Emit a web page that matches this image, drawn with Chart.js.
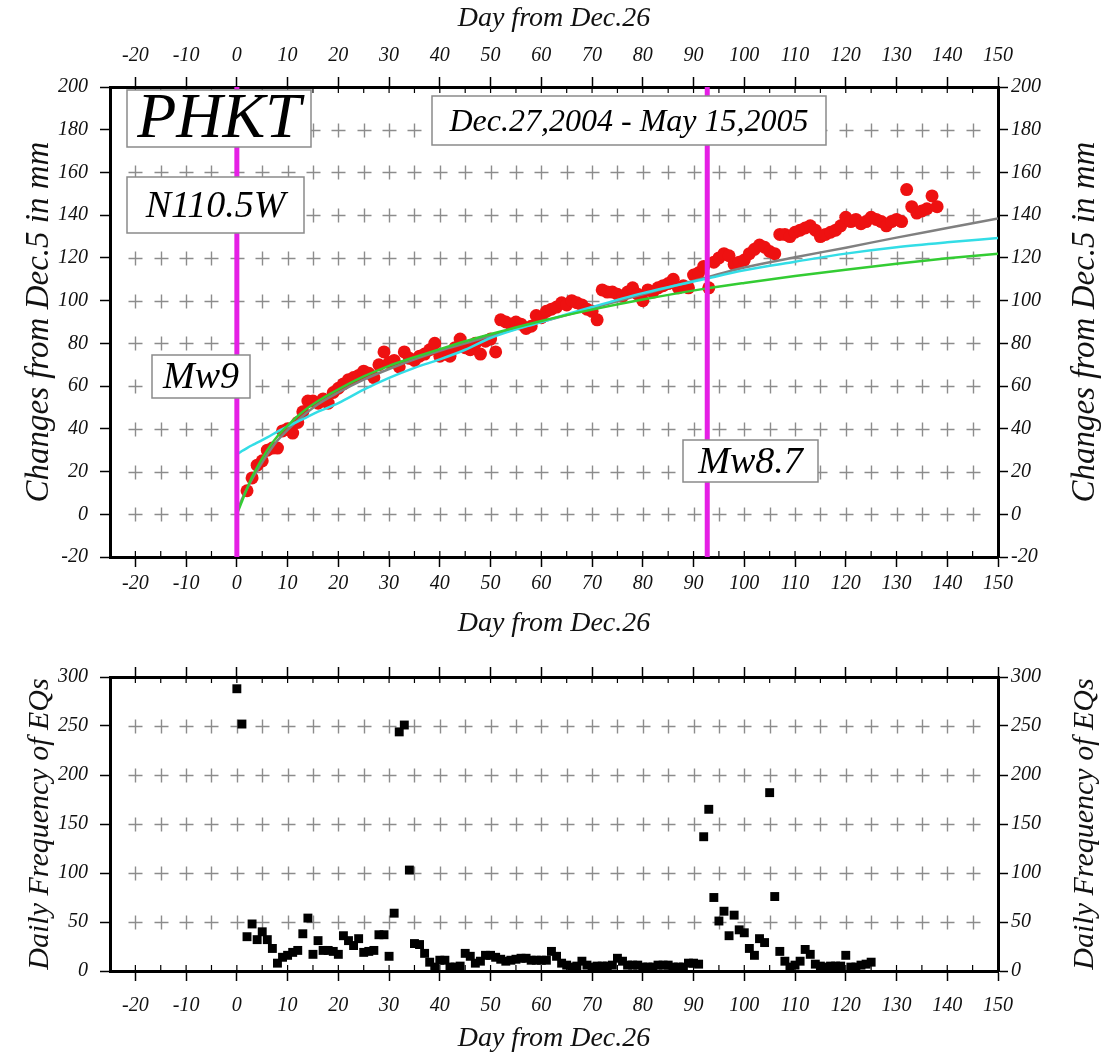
<!DOCTYPE html>
<html>
<head>
<meta charset="utf-8">
<script src="https://cdn.jsdelivr.net/npm/chart.js@4.4.0/dist/chart.umd.min.js"></script>
<style>
  body { margin: 0; background: #fff; }
  canvas { position: absolute; left: 0; }
  #gps { top: 0; }
  #eqs { top: 640px; }
</style>
</head>
<body>
<canvas id="gps" width="1104" height="640"></canvas>
<canvas id="eqs" width="1104" height="415"></canvas>
<script>
// ---------- DATA ----------
// GPS displacement at PHKT (N110.5W component), mm vs. day from Dec.26
const gpsDays = [2,3,4,5,6,7,8,9,10,11,12,13,14,15,16,17,18,19,20,21,22,23,24,25,26,27,28,29,30,31,
  32,33,34,35,36,37,38,39,40,41,42,43,44,45,46,47,48,49,50,51,52,53,54,55,56,57,58,59,60,61,
  62,63,64,65,66,67,68,69,70,71,72,73,74,75,76,77,78,79,80,81,82,83,84,85,86,87,88,89,90,91,
  92,93,94,95,96,97,98,99,100,101,102,103,104,105,106,107,108,109,110,111,112,113,114,115,116,117,118,119,120,121,
  122,123,124,125,126,127,128,129,130,131,132,133,134,135,136,137,138];
const gpsMm = [11,17,23,25,30,31,31,39,40,38,43,48,53,53,52,54,52,57,59,61,63,64,65,67,66,64,70,76,71,72,
  69,76,73,72,74,75,77,80,74,75,74,78,82,78,77,80,75,81,82,76,91,90,89,90,89,87,88,93,92,95,
  96,97,99,98,100,99,98,96,95,91,105,104,104,103,102,104,106,103,100,105,104,106,107,108,110,106,107,106,112,113,
  116,106,118,120,122,121,117,118,119,122,124,126,125,123,122,131,131,130,132,133,134,135,133,130,131,132,133,135,139,137,
  138,136,137,139,138,137,135,137,138,137,152,144,141,142,143,149,144];

// fitted curves at these days
const fitDays  = [0, 0.5, 1, 2, 3, 4, 6, 8, 10, 13, 16, 20, 25, 30, 35, 40, 45, 50, 60, 70, 80, 92, 100, 110, 120, 130, 140, 150];
const grayFit  = [1, 4, 7, 12, 16.5, 20.5, 28, 34.5, 39.5, 46, 51.5, 57, 63, 68, 72.5, 76.5, 80, 83.5, 90, 96.5, 103, 110.5, 115.5, 120.3, 124.8, 129.5, 134, 138.5];
const cyanFit  = [28, 28.8, 29.6, 31, 32.3, 33.5, 36, 38.7, 41.2, 44.5, 48, 52, 58.3, 63.8, 68.5, 72.5, 77, 82.5, 90, 97, 103.5, 110, 114.2, 118.2, 122, 125, 127.3, 129.3];
const greenFit = [0, 3, 6, 12, 17.5, 22, 30, 36.5, 41.5, 48, 53, 58.5, 64.5, 69.5, 73.5, 77.3, 81, 84.3, 90.5, 95.8, 100.5, 105.5, 108.3, 111.5, 114.5, 117.3, 119.8, 122];

// daily earthquake counts
const eqDays = [0,1,2,3,4,5,6,7,8,9,10,11,12,13,14,15,16,17,18,19,20,21,22,23,24,25,26,27,28,29,
  30,31,32,33,34,35,36,37,38,39,40,41,42,43,44,45,46,47,48,49,50,51,52,53,54,55,56,57,58,59,
  60,61,62,63,64,65,66,67,68,69,70,71,72,73,74,75,76,77,78,79,80,81,82,83,84,85,86,87,88,89,
  90,91,92,93,94,95,96,97,98,99,100,101,102,103,104,105,106,107,108,109,110,111,112,113,114,115,116,117,118,119,
  120,121,122,123,124,125];
const eqCount = [288,252,35,48,32,40,32,23,8,14,16,19,21,38,54,17,31,21,21,20,17,36,31,26,33,19,20,21,37,37,
  15,59,244,251,103,28,27,18,9,4,11,11,4,4,5,18,15,8,10,16,16,14,12,10,11,12,13,13,11,11,
  11,11,20,15,8,6,4,5,10,6,4,5,5,5,6,13,10,6,6,6,4,4,4,6,6,6,4,4,4,8,
  8,7,137,165,75,51,61,36,57,42,39,23,16,33,29,182,76,20,10,4,6,10,22,17,7,5,4,5,5,5,
  16,4,4,6,7,9];

// axis ticks
const dayTicks = [-20,-10,0,10,20,30,40,50,60,70,80,90,100,110,120,130,140,150];
const quakeDays = [0, 92.7];   // Mw9 and Mw8.7

// ---------- STYLE HELPERS ----------
const SERIF = "'Liberation Serif', 'DejaVu Serif', serif";
Chart.defaults.font.family = SERIF;
Chart.defaults.font.style = 'italic';
Chart.defaults.color = '#111';

const tickFont = { size: 20, style: 'italic' };
const titleFont = { size: 28, style: 'italic' };

function xAxis(pos, height, showLabels, title, tickPad, titlePad) {
  return {
    type: 'linear', position: pos, min: -25, max: 150,
    afterBuildTicks: s => { s.ticks = dayTicks.map(v => ({ value: v })); },
    afterFit: s => { s.height = height; },
    grid: { drawOnChartArea: false, drawTicks: true, tickLength: 10, tickWidth: 1.5, tickColor: '#000' },
    border: { display: true, width: 3, color: '#000' },
    ticks: { display: showLabels, font: tickFont, padding: tickPad, maxRotation: 0, autoSkip: false },
    title: { display: !!title, text: title || '', font: titleFont, padding: titlePad }
  };
}

function yAxis(pos, width, min, max, step, title, tickPad, titlePad, titleSize) {
  return {
    type: 'linear', position: pos, min, max,
    afterFit: s => { s.width = width; },
    grid: { drawOnChartArea: false, drawTicks: true, tickLength: 10, tickWidth: 1.5, tickColor: '#000' },
    border: { display: true, width: 3, color: '#000' },
    ticks: { stepSize: step, font: tickFont, padding: tickPad },
    title: { display: !!title, text: title || '', font: { size: titleSize || 30, style: 'italic' }, padding: titlePad }
  };
}

// crosses, inner minor ticks, magenta quake lines, label boxes, right-side title
const decor = {
  id: 'decor',
  beforeDatasetsDraw(chart, args, o) {
    const { ctx, chartArea: a, scales: { x, y } } = chart;
    ctx.save();
    ctx.strokeStyle = '#8c8c8c';
    ctx.lineWidth = 1.4;
    ctx.beginPath();
    for (let d = -20; d < 150; d += 5) {
      const px = Math.round(x.getPixelForValue(d)) + 0.5;
      for (const v of o.crossRows) {
        const py = Math.round(y.getPixelForValue(v)) + 0.5;
        ctx.moveTo(px - 7, py); ctx.lineTo(px + 7, py);
        ctx.moveTo(px, py - 7); ctx.lineTo(px, py + 7);
      }
    }
    ctx.stroke();
    ctx.strokeStyle = '#000';
    ctx.lineWidth = 1.2;
    ctx.beginPath();
    for (let d = -20; d < 150; d += 5) {
      const px = x.getPixelForValue(d);
      ctx.moveTo(px, a.top); ctx.lineTo(px, a.top + 6);
      ctx.moveTo(px, a.bottom); ctx.lineTo(px, a.bottom - 6);
    }
    ctx.stroke();
    ctx.restore();
  },
  afterDatasetsDraw(chart, args, o) {
    const { ctx, chartArea: a, scales: { x } } = chart;
    ctx.save();
    ctx.strokeStyle = '#e51fe5';
    ctx.lineWidth = 5;
    for (const d of o.quakes) {
      const px = x.getPixelForValue(d);
      ctx.beginPath(); ctx.moveTo(px, a.top); ctx.lineTo(px, a.bottom); ctx.stroke();
    }
    for (const b of o.boxes) {
      const bx = a.left + b.dx, by = a.top + b.dy;
      ctx.fillStyle = '#fff';
      ctx.fillRect(bx, by, b.w, b.h);
      ctx.strokeStyle = '#8a8a8a';
      ctx.lineWidth = 1.5;
      ctx.strokeRect(bx, by, b.w, b.h);
      ctx.fillStyle = '#000';
      ctx.font = `italic ${b.size}px ${SERIF}`;
      ctx.textAlign = 'center';
      ctx.textBaseline = 'middle';
      ctx.fillText(b.text, bx + b.w / 2, by + b.h / 2 + 2);
    }
    ctx.restore();
  },
  afterDraw(chart, args, o) {
    if (!o.rightTitle) return;
    const { ctx, chartArea: a } = chart;
    ctx.save();
    ctx.fillStyle = '#111';
    ctx.font = `italic ${o.rightTitleSize}px ${SERIF}`;
    ctx.textAlign = 'center';
    ctx.textBaseline = 'middle';
    ctx.translate(o.rightTitleX, (a.top + a.bottom) / 2);
    ctx.rotate(-Math.PI / 2);
    ctx.fillText(o.rightTitle, 0, 0);
    ctx.restore();
  }
};

const base = {
  responsive: false,
  animation: false,
  layout: { padding: 0 },
};

// ---------- TOP: GPS ----------
new Chart(document.getElementById('gps'), {
  type: 'scatter',
  data: {
    datasets: [
      { data: gpsDays.map((d, i) => ({ x: d, y: gpsMm[i] })), pointRadius: 6.5,
        backgroundColor: '#ee1111', borderWidth: 0, order: 4 },
      { data: fitDays.map((d, i) => ({ x: d, y: grayFit[i] })), showLine: true, pointRadius: 0,
        borderColor: '#808080', borderWidth: 2.5, cubicInterpolationMode: 'monotone', order: 3 },
      { data: fitDays.map((d, i) => ({ x: d, y: cyanFit[i] })), showLine: true, pointRadius: 0,
        borderColor: '#33dde6', borderWidth: 2.5, cubicInterpolationMode: 'monotone', order: 2 },
      { data: fitDays.map((d, i) => ({ x: d, y: greenFit[i] })), showLine: true, pointRadius: 0,
        borderColor: '#33cc33', borderWidth: 2.5, cubicInterpolationMode: 'monotone', order: 1 },
    ]
  },
  options: {
    ...base,
    scales: {
      x: xAxis('bottom', 83, true, 'Day from Dec.26', 5, { bottom: 0 }),
      x2: xAxis('top', 87, true, 'Day from Dec.26', 9, { top: 2 }),
      y: yAxis('left', 110, -20, 200, 20, 'Changes from Dec.5 in mm', 12, { top: 20 }, 33),
      y2: yAxis('right', 106, -20, 200, 20, '', 3, 0),
    },
    plugins: {
      legend: { display: false },
      tooltip: { enabled: false },
      decor: {
        crossRows: [0, 20, 40, 60, 80, 100, 120, 140, 160, 180],
        quakes: quakeDays,
        boxes: [
          { text: 'PHKT', dx: 17, dy: 3, w: 184, h: 57, size: 64 },
          { text: 'N110.5W', dx: 17, dy: 90, w: 177, h: 56, size: 38 },
          { text: 'Mw9', dx: 42, dy: 268, w: 98, h: 43, size: 38 },
          { text: 'Dec.27,2004 - May 15,2005', dx: 322, dy: 9, w: 394, h: 49, size: 32 },
          { text: 'Mw8.7', dx: 573, dy: 353, w: 135, h: 42, size: 38 },
        ],
        rightTitle: 'Changes from Dec.5 in mm',
        rightTitleX: 1085,
        rightTitleSize: 33,
      }
    }
  },
  plugins: [decor]
});

// ---------- BOTTOM: EQ FREQUENCY ----------
new Chart(document.getElementById('eqs'), {
  type: 'scatter',
  data: {
    datasets: [
      { data: eqDays.map((d, i) => ({ x: d, y: eqCount[i] })), pointStyle: 'rect', pointRadius: 6.3,
        backgroundColor: '#000', borderWidth: 0 },
    ]
  },
  options: {
    ...base,
    scales: {
      x: xAxis('bottom', 84, true, 'Day from Dec.26', 13, { bottom: 0 }),
      x2: xAxis('top', 37, false, '', 0, 0),
      y: yAxis('left', 110, 0, 300, 50, 'Daily Frequency of EQs', 12, { top: 22 }, 30),
      y2: yAxis('right', 106, 0, 300, 50, '', 3, 0),
    },
    plugins: {
      legend: { display: false },
      tooltip: { enabled: false },
      decor: {
        crossRows: [50, 100, 150, 200, 250],
        quakes: [],
        boxes: [],
        rightTitle: 'Daily Frequency of EQs',
        rightTitleX: 1085,
        rightTitleSize: 30,
      }
    }
  },
  plugins: [decor]
});
</script>
</body>
</html>
